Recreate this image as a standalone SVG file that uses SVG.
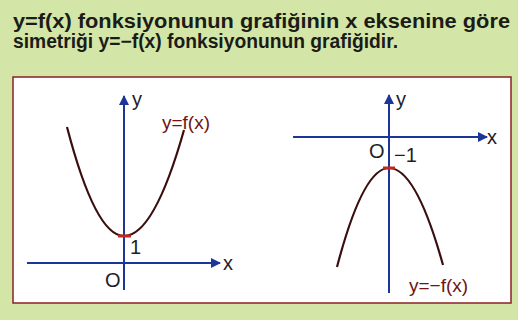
<svg xmlns="http://www.w3.org/2000/svg" width="518" height="320" viewBox="0 0 518 320">
<style>
.title{font-family:"Liberation Sans",Arial,sans-serif;font-weight:bold;font-size:19.5px;fill:#1b1b17}
.lbl{font-family:"Liberation Sans",Arial,sans-serif;font-size:20px;fill:#1e1e2a}
.flbl{font-family:"Liberation Sans",Arial,sans-serif;font-size:19px;fill:#6e1414}
.axis{stroke:#1c3596;stroke-width:2;fill:none}
.curve{stroke:#3a0e0e;stroke-width:2.2;fill:none}
.vtx{stroke:#c0281c;stroke-width:3}
</style>
<defs>
<marker id="arr" viewBox="0 0 10 10" refX="9" refY="5" markerWidth="5" markerHeight="5" orient="auto" markerUnits="strokeWidth">
<path d="M0,0 L10,5 L0,10 z" fill="#1c3596"/>
</marker>
</defs>
<rect x="0" y="0" width="518" height="320" fill="#d3e6a8"/>
<text class="title" x="13" y="28" textLength="497" lengthAdjust="spacingAndGlyphs">y=f(x) fonksiyonunun grafiğinin x eksenine göre</text>
<text class="title" x="13" y="48" textLength="385" lengthAdjust="spacingAndGlyphs">simetriği y=−f(x) fonksiyonunun grafiğidir.</text>
<rect x="13" y="77" width="498" height="226" fill="#ffffff" stroke="#8a2020" stroke-width="1.5"/>
<g id="connectors">
<line class="axis" x1="124" y1="290" x2="124" y2="96" marker-end="url(#arr)"/>
<line class="axis" x1="27" y1="263" x2="220" y2="263" marker-end="url(#arr)"/>
<line class="axis" x1="389" y1="293" x2="389" y2="95" marker-end="url(#arr)"/>
<line class="axis" x1="293" y1="137" x2="487" y2="137" marker-end="url(#arr)"/>
</g>
<g id="graph-f">
<path class="curve" d="M67,127 Q95.5,236 124,236 Q154,236 184,130"/>
<line class="vtx" x1="118" y1="236" x2="131" y2="236"/>
<text class="flbl" x="162" y="129">y=f(x)</text>
<text class="lbl" x="132" y="106">y</text>
<text class="lbl" x="223" y="270">x</text>
<text class="lbl" x="105" y="287">O</text>
<text class="lbl" x="130" y="254" font-size="17">1</text>
</g>
<g id="graph-negf">
<path class="curve" d="M337,267 Q363,168 389,168 Q416,168 443,265"/>
<line class="vtx" x1="383" y1="168" x2="395" y2="168"/>
<text class="flbl" x="409" y="292">y=−f(x)</text>
<text class="lbl" x="396" y="106">y</text>
<text class="lbl" x="487" y="144">x</text>
<text class="lbl" x="369" y="158">O</text>
<text class="lbl" x="394" y="162" font-size="17">−1</text>
</g>
</svg>
